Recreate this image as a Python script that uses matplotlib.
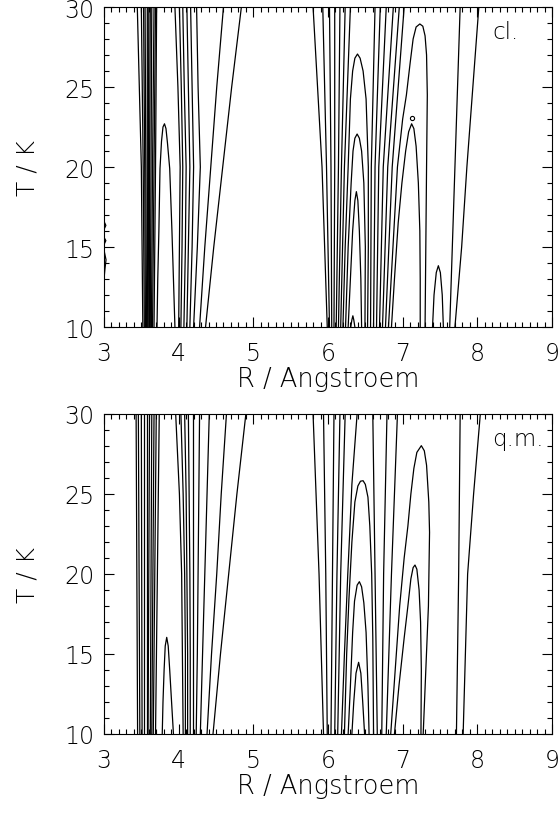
import matplotlib
matplotlib.use('Agg')
import matplotlib.pyplot as plt
from matplotlib.ticker import MultipleLocator

plt.rcParams['font.family'] = ['DejaVu Sans']
plt.rcParams['font.weight'] = 'light'
plt.rcParams['axes.labelweight'] = 'light'

# T levels used for the simple (nearly vertical) contour lines
T3 = [30, 20, 10]
T5 = [30, 25, 20, 15, 10]

# ---------------- upper panel: classical (cl.) ----------------
# R of each line at T = 30, 20, 10
cl_core = [[3.446, 3.50, 3.52], [3.50, 3.525, 3.54], [3.53, 3.545, 3.555],
           [3.55, 3.56, 3.57], [3.58, 3.58, 3.585], [3.60, 3.595, 3.60],
           [3.62, 3.61, 3.61], [3.64, 3.63, 3.62], [3.67, 3.65, 3.635],
           [3.69, 3.67, 3.65], [3.705, 3.69, 3.67]]
# R at T = 30, 25, 20, 15, 10
cl_outer = [[3.95, 3.99, 4.02, 4.01, 4.00], [4.01, 4.035, 4.055, 4.045, 4.03],
            [4.055, 4.075, 4.10, 4.09, 4.07], [4.11, 4.13, 4.15, 4.13, 4.11],
            [4.16, 4.18, 4.20, 4.18, 4.15], [4.24, 4.26, 4.29, 4.25, 4.20],
            [4.60, 4.51, 4.43, 4.35, 4.28], [4.84, 4.71, 4.59, 4.47, 4.36]]
cl_mid_left = [[5.80, 5.92, 5.99], [5.93, 5.98, 6.02], [6.02, 6.04, 6.05],
               [6.09, 6.09, 6.08], [6.16, 6.14, 6.11], [6.23, 6.18, 6.14],
               [6.30, 6.22, 6.17]]
cl_mid_right = [[6.63, 6.58, 6.57], [6.70, 6.63, 6.61], [6.78, 6.68, 6.65],
                [6.875, 6.74, 6.69], [6.955, 6.80, 6.73], [7.02, 6.86, 6.77]]
cl_far = [[7.77, 7.735, 7.70, 7.665, 7.63], [8.02, 7.94, 7.86, 7.79, 7.70]]
# closed-top contours, (R, T) points
cl_arches = [
    [(3.71, 10), (3.72, 13), (3.735, 16), (3.75, 19.9), (3.77, 21.6), (3.79, 22.5),
     (3.81, 22.7), (3.83, 22.4), (3.85, 21.5), (3.88, 19.9), (3.91, 16), (3.93, 13), (3.95, 10)],
    [(6.20, 10), (6.23, 15), (6.27, 20), (6.30, 24.25), (6.33, 26), (6.36, 26.8), (6.395, 27.06),
     (6.43, 26.8), (6.47, 26), (6.51, 24.25), (6.54, 20), (6.54, 15), (6.53, 10)],
    [(6.235, 10), (6.27, 15), (6.31, 19), (6.335, 21), (6.36, 21.8), (6.39, 22.06),
     (6.42, 21.8), (6.45, 21), (6.48, 19), (6.50, 15), (6.495, 10)],
    [(6.27, 10), (6.30, 13), (6.33, 16), (6.36, 17.9), (6.38, 18.46),
     (6.40, 17.9), (6.42, 16), (6.44, 13), (6.45, 10)],
    [(6.305, 10), (6.32, 10.45), (6.333, 10.7), (6.345, 10.45), (6.36, 10)],
    [(6.81, 10), (6.87, 15), (6.93, 20), (7.00, 23), (7.05, 24.5), (7.10, 26.5), (7.14, 28),
     (7.18, 28.75), (7.23, 28.94), (7.27, 28.8), (7.30, 28.2), (7.32, 27), (7.33, 24.5),
     (7.32, 20), (7.31, 15), (7.30, 10)],
    [(6.85, 10), (6.89, 13), (6.94, 16.5), (6.99, 19), (7.04, 21), (7.08, 22.2), (7.12, 22.7),
     (7.15, 22.4), (7.18, 21.3), (7.21, 19), (7.23, 16), (7.235, 13), (7.235, 10)],
    [(7.40, 10), (7.42, 12), (7.45, 13.4), (7.478, 13.83), (7.505, 13.4), (7.53, 12), (7.545, 10)],
]
cl_edge = [[(3.0, 18.95), (3.004, 18.45)],
           [(3.0, 16.6), (3.025, 16.35), (3.0, 16.1)],
           [(3.0, 15.6), (3.025, 15.4), (3.005, 15.2), (3.0, 15.05)],
           [(3.0, 14.8), (3.027, 14.2), (3.012, 13.6), (3.0, 13.0)]]
cl_dot = (7.13, 23.06)

# ---------------- lower panel: quantum (q.m.) ----------------
qm_core = [[3.43, 3.44, 3.45], [3.46, 3.47, 3.48], [3.50, 3.505, 3.51],
           [3.54, 3.54, 3.54], [3.57, 3.57, 3.57], [3.61, 3.60, 3.59],
           [3.64, 3.63, 3.62], [3.67, 3.655, 3.64], [3.70, 3.68, 3.66],
           [3.74, 3.715, 3.69]]
qm_outer = [[3.96, 4.01, 4.04, 4.05, 4.06], [4.03, 4.06, 4.08, 4.09, 4.09],
            [4.08, 4.10, 4.11, 4.12, 4.12], [4.13, 4.14, 4.15, 4.155, 4.155],
            [4.19, 4.19, 4.19, 4.19, 4.19], [4.28, 4.27, 4.26, 4.25, 4.235],
            [4.41, 4.38, 4.35, 4.32, 4.29], [4.64, 4.57, 4.51, 4.44, 4.38],
            [4.90, 4.78, 4.67, 4.56, 4.46]]
qm_mid_left = [[5.80, 5.88, 5.94], [5.94, 5.97, 5.99], [6.08, 6.06, 6.04],
               [6.16, 6.12, 6.09], [6.23, 6.17, 6.13]]
qm_mid_right = [[6.60, 6.63, 6.66], [6.79, 6.745, 6.72], [6.93, 6.85, 6.78]]
qm_far = [[7.77, 7.76, 7.75, 7.735, 7.72], [8.04, 7.95, 7.87, 7.84, 7.81]]
qm_arches = [
    [(3.78, 10), (3.79, 12), (3.805, 14), (3.82, 15.5), (3.84, 16.04),
     (3.86, 15.5), (3.88, 14), (3.905, 12), (3.93, 10)],
    [(6.39, 30), (6.35, 27.5), (6.32, 25.6), (6.29, 22.5), (6.265, 20), (6.22, 15), (6.18, 10)],
    [(6.22, 10), (6.25, 15), (6.28, 18.4), (6.32, 22), (6.36, 24.5), (6.40, 25.5), (6.435, 25.8),
     (6.47, 25.83), (6.50, 25.6), (6.535, 24.8), (6.56, 23), (6.585, 20), (6.60, 16), (6.61, 10)],
    [(6.27, 10), (6.30, 13), (6.33, 16.35), (6.355, 18.3), (6.39, 19.3), (6.42, 19.52),
     (6.45, 19.2), (6.48, 18.2), (6.51, 16.35), (6.535, 13), (6.55, 10)],
    [(6.32, 10), (6.345, 12), (6.375, 13.8), (6.41, 14.48), (6.44, 13.8), (6.465, 12), (6.49, 10)],
    [(6.84, 10), (6.90, 14), (6.96, 18), (7.02, 21), (7.07, 23), (7.11, 25), (7.15, 26.6),
     (7.19, 27.6), (7.25, 28.02), (7.29, 27.7), (7.32, 26.8), (7.35, 24.5), (7.36, 22.6),
     (7.345, 18), (7.31, 14), (7.275, 10)],
    [(6.89, 10), (6.95, 13), (7.02, 16), (7.07, 18), (7.11, 19.7), (7.14, 20.4), (7.165, 20.56),
     (7.19, 20.3), (7.22, 19), (7.24, 17), (7.25, 14), (7.245, 10)],
]


def draw_cols(ax, cols, ts):
    for r in cols:
        ax.plot(r, ts, color='k', lw=0.9)


def draw_pts(ax, curves):
    for c in curves:
        ax.plot([p[0] for p in c], [p[1] for p in c], color='k', lw=0.9)


def style(ax, label):
    ax.set_xlim(3, 9)
    ax.set_ylim(10, 30)
    ax.xaxis.set_major_locator(MultipleLocator(1))
    ax.xaxis.set_minor_locator(MultipleLocator(0.1))
    ax.yaxis.set_major_locator(MultipleLocator(5))
    ax.yaxis.set_minor_locator(MultipleLocator(1))
    ax.tick_params(which='both', direction='in', top=True, right=True, width=0.8)
    ax.tick_params(which='major', length=7, labelsize=17)
    ax.tick_params(which='minor', length=3.5)
    ax.tick_params(axis='x', pad=10)
    ax.tick_params(axis='y', pad=7)
    for s in ax.spines.values():
        s.set_linewidth(0.8)
    ax.set_xlabel('R / Angstroem', fontsize=18.5, labelpad=1)
    ax.set_ylabel('T / K', fontsize=18, labelpad=18)
    ax.text(8.2, 28.45, label, fontsize=16.5, ha='left', va='center')


fig = plt.figure(figsize=(5.6, 8.2), dpi=100)
ax1 = fig.add_axes([104/560, 1-328/820, 448/560, 320/820])
ax2 = fig.add_axes([104/560, 1-735/820, 448/560, 320/820])

draw_cols(ax1, cl_core, T3)
draw_cols(ax1, cl_outer, T5)
draw_cols(ax1, cl_mid_left, T3)
draw_cols(ax1, cl_mid_right, T3)
draw_cols(ax1, cl_far, T5)
draw_pts(ax1, cl_arches)
draw_pts(ax1, cl_edge)
ax1.plot(*cl_dot, marker='o', ms=3, mfc='none', mec='k', mew=0.8)
style(ax1, 'cl.')

draw_cols(ax2, qm_core, T3)
draw_cols(ax2, qm_outer, T5)
draw_cols(ax2, qm_mid_left, T3)
draw_cols(ax2, qm_mid_right, T3)
draw_cols(ax2, qm_far, T5)
draw_pts(ax2, qm_arches)
style(ax2, 'q.m.')

fig.savefig('out.png', dpi=100)
